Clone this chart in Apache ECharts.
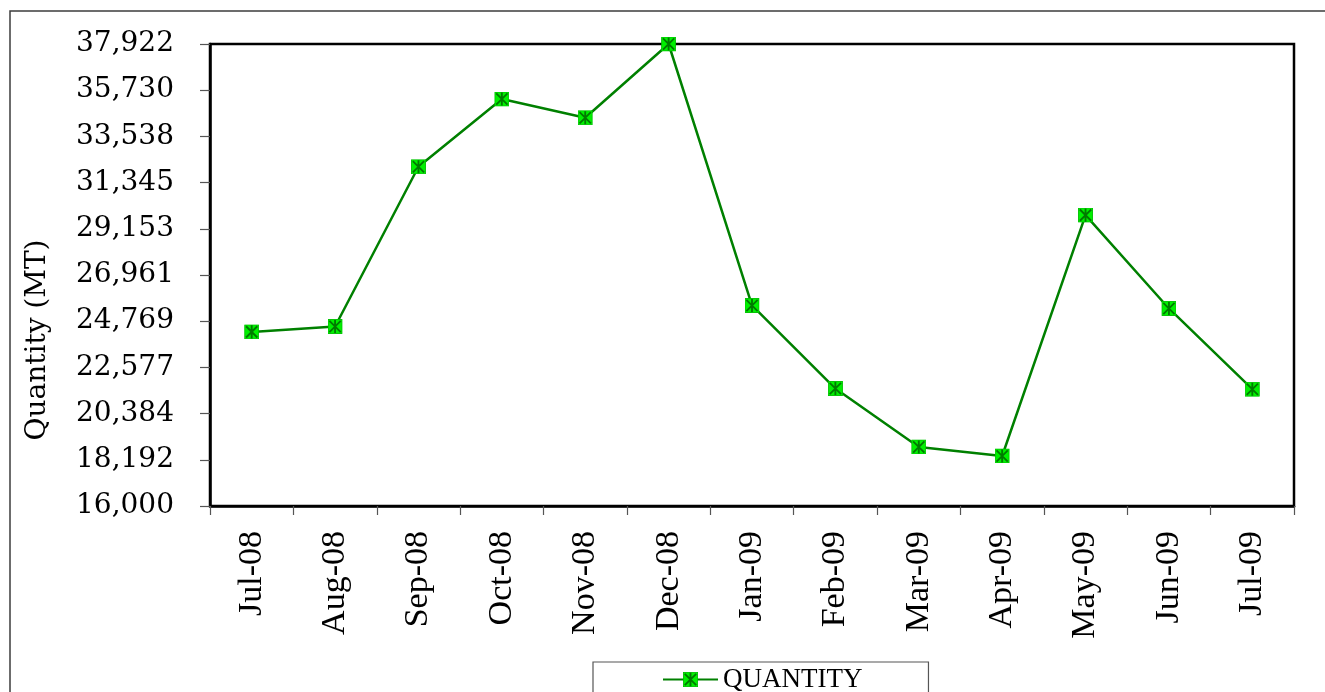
<!DOCTYPE html>
<html>
<head>
<meta charset="utf-8">
<script src="https://cdn.jsdelivr.net/npm/echarts@6/dist/echarts.min.js"></script>
<style>
html, body { margin: 0; padding: 0; background: #fff; }
#main { width: 1325px; height: 692px; }
</style>
</head>
<body>
<div id="main"></div>
<script>
// data
const months = ['Jul-08', 'Aug-08', 'Sep-08', 'Oct-08', 'Nov-08', 'Dec-08', 'Jan-09',
                'Feb-09', 'Mar-09', 'Apr-09', 'May-09', 'Jun-09', 'Jul-09'];
const quantity = [24262, 24518, 32096, 35310, 34422, 37922, 25515,
                  21574, 18801, 18374, 29803, 25373, 21541];
const yMin = 16000;
const yMax = 37922;
const yStep = 2192.2;

// green square marker with a dark asterisk, like the spreadsheet one
const markerSvg = "<svg xmlns='http://www.w3.org/2000/svg' width='16' height='16' viewBox='0 0 16 16'>" +
    "<rect x='0.5' y='0.5' width='15' height='15' fill='#00f000' stroke='#00c000' stroke-width='1'/>" +
    "<path d='M2 2L14 14M14 2L2 14M8 1V15' stroke='#007a00' stroke-width='2'/></svg>";
const markerIcon = 'image://data:image/svg+xml;charset=utf-8,' + encodeURIComponent(markerSvg);

const chart = echarts.init(document.getElementById('main'), null, { renderer: 'canvas' });

const option = {
    animation: false,
    backgroundColor: '#fff',
    graphic: [{
        type: 'rect',
        shape: { x: 10, y: 11, width: 1340, height: 720 },
        style: { fill: 'none', stroke: '#3c3c3c', lineWidth: 1.5 },
        silent: true
    }],
    grid: {
        left: 210, right: 31, top: 44, bottom: 186,
        containLabel: false,
        outerBoundsMode: 'none',
        show: true,
        borderColor: '#000',
        borderWidth: 2.5
    },
    legend: {
        left: 593, top: 662,
        padding: [4, 66, 30, 69],
        itemWidth: 55, itemHeight: 19, itemGap: 6,
        borderColor: '#555', borderWidth: 1.2,
        backgroundColor: '#fff',
        textStyle: { fontFamily: 'Liberation Serif', fontSize: 27, color: '#000' },
        data: ['QUANTITY']
    },
    xAxis: {
        type: 'category',
        data: months,
        boundaryGap: true,
        axisLine: { lineStyle: { color: '#000', width: 2.5 } },
        axisTick: { show: true, length: 9, lineStyle: { color: '#555', width: 1.2 } },
        axisLabel: {
            rotate: 90, margin: 25, interval: 0,
            fontFamily: 'Liberation Serif', fontSize: 34, color: '#000'
        },
        splitLine: { show: false }
    },
    yAxis: {
        type: 'value',
        min: yMin, max: yMax, interval: yStep,
        name: 'Quantity (MT)',
        nameLocation: 'middle',
        nameGap: 158,
        nameTextStyle: {
            fontFamily: 'DejaVu Serif', fontSize: 28, color: '#000',
            padding: [0, 130, 0, 0]
        },
        axisLine: { show: true, lineStyle: { color: '#000', width: 2.5 } },
        axisTick: { show: true, length: 10, lineStyle: { color: '#555', width: 1.2 } },
        axisLabel: {
            margin: 36,
            fontFamily: 'DejaVu Serif', fontSize: 28, color: '#000',
            formatter: v => Math.round(v).toLocaleString('en-US')
        },
        splitLine: { show: false }
    },
    series: [{
        name: 'QUANTITY',
        type: 'line',
        data: quantity,
        symbol: markerIcon,
        symbolSize: 15,
        showAllSymbol: true,
        lineStyle: { color: '#008000', width: 2.5 },
        itemStyle: { color: '#008000' }
    }]
};

chart.setOption(option);
</script>
</body>
</html>
